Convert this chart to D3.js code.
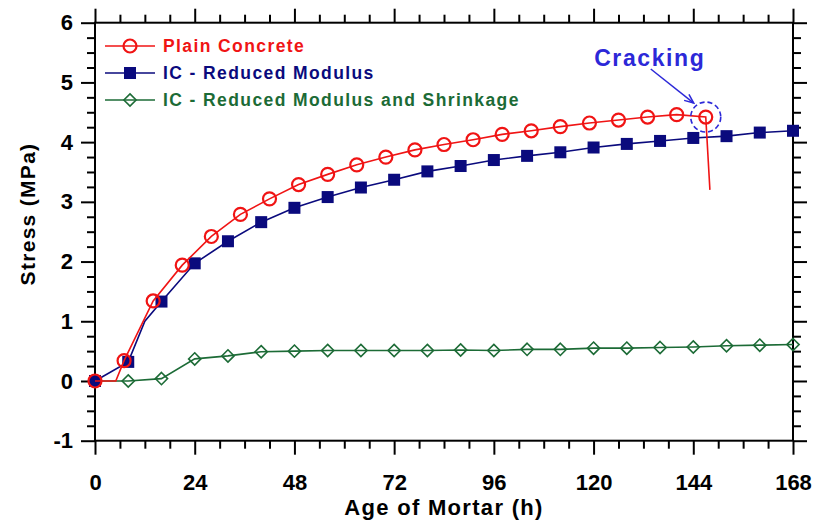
<!DOCTYPE html>
<html>
<head>
<meta charset="utf-8">
<script src="https://cdn.jsdelivr.net/npm/d3@7"></script>
<style>
  body { margin: 0; background: #fff; }
  svg text { font-family: "Liberation Sans", Arial, sans-serif; font-weight: bold; }
</style>
</head>
<body>
<div id="chart"></div>
<script>
/**
 * DATA
 * */
const plainAge = [0, 7, 14, 21, 28, 35, 42, 49, 56, 63, 70, 77, 84, 91, 98, 105, 112, 119, 126, 133, 140, 147];
const plainStress = [0, 0.34, 1.34, 1.94, 2.42, 2.79, 3.05, 3.29, 3.46, 3.62, 3.75, 3.87, 3.96, 4.04, 4.13, 4.19, 4.26, 4.32, 4.37, 4.42, 4.46, 4.42];
// unmarked line knots: flat start and the drop after cracking
const plainStartKnot = [5, 0];
const plainCrackDrop = [148, 3.2];

const icAge = [0, 8, 16, 24, 32, 40, 48, 56, 64, 72, 80, 88, 96, 104, 112, 120, 128, 136, 144, 152, 160, 168];
const icStress = [0, 0.32, 1.33, 1.97, 2.34, 2.66, 2.90, 3.08, 3.24, 3.37, 3.51, 3.60, 3.70, 3.77, 3.83, 3.91, 3.97, 4.02, 4.07, 4.10, 4.16, 4.19];
const icKnot = [12, 1.0];
const icShrinkStress = [0, 0, 0.04, 0.37, 0.42, 0.49, 0.50, 0.51, 0.51, 0.51, 0.51, 0.52, 0.51, 0.53, 0.53, 0.55, 0.55, 0.56, 0.57, 0.59, 0.60, 0.61];

const seriesNames = ["Plain Concrete", "IC - Reduced Modulus", "IC - Reduced Modulus and Shrinkage"];
const xMajor = [0, 24, 48, 72, 96, 120, 144, 168];
const yMajor = [-1, 0, 1, 2, 3, 4, 5, 6];
const crackLabel = "Cracking";

/**
 * CONSTANTS
 * */
const width = 815, height = 523,
  margin = { top: 22.7, right: 22, bottom: 82.3, left: 95 },
  red = "#f01414", navy = "#0a0a7d", green = "#1c6b36", crackBlue = "#2c28d8";

const svg = d3.select("#chart").append("svg")
  .attr("width", width).attr("height", height);

const x = d3.scaleLinear().domain([0, 168]).range([margin.left, width - margin.right]);
const y = d3.scaleLinear().domain([-1, 6]).range([height - margin.bottom, margin.top]);

const xMinor = d3.range(0, 169, 6).filter(d => d % 24 !== 0);
const yMinor = d3.range(-1, 6.001, 0.25).filter(d => Math.abs(d - Math.round(d)) > 0.01);

function styleAxis(g) {
  g.select(".domain").remove();
  g.selectAll(".tick line").attr("stroke", "#000").attr("stroke-width", 2);
  g.selectAll(".tick text").attr("fill", "#000")
    .style("font-size", "22px");
}

// bottom
svg.append("g").attr("transform", `translate(0,${y(-1)})`)
  .call(d3.axisBottom(x).tickValues(xMinor).tickSize(8).tickFormat("")).call(styleAxis);
svg.append("g").attr("transform", `translate(0,${y(-1)})`)
  .call(d3.axisBottom(x).tickValues(xMajor).tickSize(14).tickPadding(20).tickFormat(d => String(d))).call(styleAxis);
// top
svg.append("g").attr("transform", `translate(0,${y(6)})`)
  .call(d3.axisTop(x).tickValues(xMinor).tickSize(8).tickFormat("")).call(styleAxis);
svg.append("g").attr("transform", `translate(0,${y(6)})`)
  .call(d3.axisTop(x).tickValues(xMajor).tickSize(14).tickFormat("")).call(styleAxis);
// left
svg.append("g").attr("transform", `translate(${x(0)},0)`)
  .call(d3.axisLeft(y).tickValues(yMinor).tickSize(8).tickFormat("")).call(styleAxis);
svg.append("g").attr("transform", `translate(${x(0)},0)`)
  .call(d3.axisLeft(y).tickValues(yMajor).tickSize(14).tickPadding(8).tickFormat(d => String(d))).call(styleAxis);
// right
svg.append("g").attr("transform", `translate(${x(168)},0)`)
  .call(d3.axisRight(y).tickValues(yMinor).tickSize(8).tickFormat("")).call(styleAxis);
svg.append("g").attr("transform", `translate(${x(168)},0)`)
  .call(d3.axisRight(y).tickValues(yMajor).tickSize(14).tickFormat("")).call(styleAxis);

// frame
svg.append("rect")
  .attr("x", x(0)).attr("y", y(6))
  .attr("width", x(168) - x(0)).attr("height", y(-1) - y(6))
  .attr("fill", "none").attr("stroke", "#000").attr("stroke-width", 2);

// axis titles
svg.append("text")
  .attr("x", (x(0) + x(168)) / 2).attr("y", 515)
  .attr("text-anchor", "middle")
  .style("font-size", "22px").style("letter-spacing", "1.3px")
  .text("Age of Mortar (h)");
svg.append("text")
  .attr("transform", `translate(35,214) rotate(-90)`)
  .attr("text-anchor", "middle")
  .style("font-size", "21px").style("letter-spacing", "1.3px")
  .text("Stress (MPa)");

/**
 * SERIES
 * */
const line = d3.line().x(d => x(d[0])).y(d => y(d[1]));

const plainPts = plainAge.map((a, i) => [a, plainStress[i]]);
const icPts = icAge.map((a, i) => [a, icStress[i]]);
const shrinkPts = icAge.map((a, i) => [a, icShrinkStress[i]]);

const plainLine = [plainPts[0], plainStartKnot, ...plainPts.slice(1), plainCrackDrop];
const icLine = [icPts[0], icPts[1], icKnot, ...icPts.slice(2)];

const diamond = d3.symbol().type(d3.symbolDiamond2).size(95);

// shrinkage
svg.append("path").datum(shrinkPts).attr("d", line)
  .attr("fill", "none").attr("stroke", green).attr("stroke-width", 1.6);
svg.append("g").selectAll("path").data(shrinkPts).join("path")
  .attr("transform", d => `translate(${x(d[0])},${y(d[1])})`)
  .attr("d", diamond)
  .attr("fill", "none").attr("stroke", green).attr("stroke-width", 1.6);

// reduced modulus
svg.append("path").datum(icLine).attr("d", line)
  .attr("fill", "none").attr("stroke", navy).attr("stroke-width", 1.6);
svg.append("g").selectAll("rect").data(icPts).join("rect")
  .attr("x", d => x(d[0]) - 6).attr("y", d => y(d[1]) - 6)
  .attr("width", 12).attr("height", 12)
  .attr("fill", navy);

// plain concrete
svg.append("path").datum(plainLine).attr("d", line)
  .attr("fill", "none").attr("stroke", red).attr("stroke-width", 1.6);
svg.append("g").selectAll("circle").data(plainPts).join("circle")
  .attr("cx", d => x(d[0])).attr("cy", d => y(d[1]))
  .attr("r", 6.5)
  .attr("fill", "none").attr("stroke", red).attr("stroke-width", 2.2);

/**
 * CRACKING ANNOTATION
 * */
const crack = plainPts[plainPts.length - 1];
const cx = x(crack[0]), cy = y(crack[1]);
svg.append("circle")
  .attr("cx", cx).attr("cy", cy).attr("r", 15)
  .attr("fill", "none").attr("stroke", crackBlue).attr("stroke-width", 1.6)
  .attr("stroke-dasharray", "5,3");
svg.append("text")
  .attr("x", cx - 56).attr("y", 66)
  .attr("text-anchor", "middle").attr("fill", crackBlue)
  .style("font-size", "23px").style("letter-spacing", "1.6px")
  .text(crackLabel);
const ax0 = cx - 55, ay0 = 69, ax1 = cx - 12, ay1 = cy - 14;
const ang = Math.atan2(ay1 - ay0, ax1 - ax0);
svg.append("line")
  .attr("x1", ax0).attr("y1", ay0).attr("x2", ax1).attr("y2", ay1)
  .attr("stroke", crackBlue).attr("stroke-width", 1.5);
svg.append("path")
  .attr("d", `M${ax1 - 10 * Math.cos(ang - 0.4)},${ay1 - 10 * Math.sin(ang - 0.4)}L${ax1},${ay1}L${ax1 - 10 * Math.cos(ang + 0.4)},${ay1 - 10 * Math.sin(ang + 0.4)}`)
  .attr("fill", "none").attr("stroke", crackBlue).attr("stroke-width", 1.5);

/**
 * LEGEND
 * */
const legendColors = [red, navy, green];
const legend = svg.append("g");
seriesNames.forEach((name, i) => {
  const ly = 46 + i * 27;
  legend.append("line").attr("x1", 105).attr("x2", 155).attr("y1", ly).attr("y2", ly)
    .attr("stroke", legendColors[i]).attr("stroke-width", 1.6);
  if (i === 0) {
    legend.append("circle").attr("cx", 130).attr("cy", ly).attr("r", 6.5)
      .attr("fill", "none").attr("stroke", red).attr("stroke-width", 2.2);
  } else if (i === 1) {
    legend.append("rect").attr("x", 124).attr("y", ly - 6).attr("width", 12).attr("height", 12)
      .attr("fill", navy);
  } else {
    legend.append("path").attr("transform", `translate(130,${ly})`).attr("d", diamond)
      .attr("fill", "none").attr("stroke", green).attr("stroke-width", 1.6);
  }
  legend.append("text").attr("x", 163).attr("y", ly + 6)
    .attr("fill", legendColors[i])
    .style("font-size", "17.5px").style("letter-spacing", "1.4px")
    .text(name);
});
</script>
</body>
</html>
